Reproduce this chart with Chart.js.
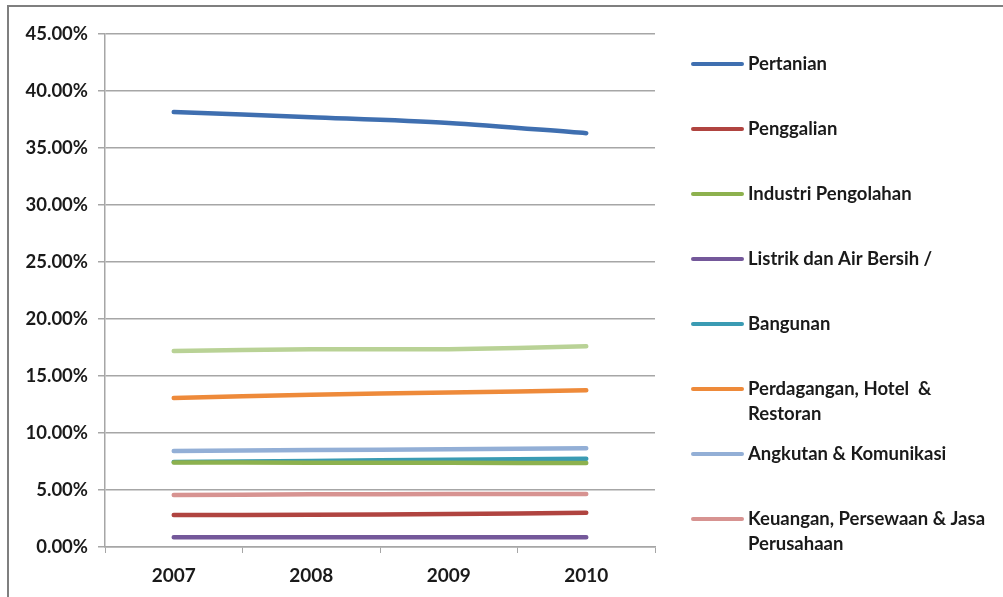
<!DOCTYPE html>
<html>
<head>
<meta charset="utf-8">
<script src="https://cdn.jsdelivr.net/npm/chart.js@4"></script>
<style>
  html, body { margin: 0; padding: 0; background: #ffffff; }
  #wrap { width: 1003px; height: 597px; }
</style>
</head>
<body>
<div id="wrap"><canvas id="c" width="1003" height="597"></canvas></div>
<script>
// Years on the horizontal axis
const years = ['2007', '2008', '2009', '2010'];

// Share of each sector (percent)
const pertanian   = [38.15, 37.70, 37.20, 36.30];
const penggalian  = [2.80, 2.82, 2.90, 3.00];
const industri    = [7.42, 7.40, 7.38, 7.36];
const listrik     = [0.86, 0.86, 0.85, 0.85];
const bangunan    = [7.46, 7.55, 7.65, 7.75];
const perdagangan = [13.07, 13.35, 13.55, 13.75];
const angkutan    = [8.42, 8.50, 8.58, 8.66];
const keuangan    = [4.56, 4.62, 4.64, 4.65];
const jasa        = [17.20, 17.35, 17.35, 17.60];

// Series names ("\n" marks a line break in the legend)
const seriesNames = [
  'Pertanian',
  'Penggalian',
  'Industri Pengolahan',
  'Listrik dan Air Bersih /',
  'Bangunan',
  'Perdagangan, Hotel  &\nRestoran',
  'Angkutan & Komunikasi',
  'Keuangan, Persewaan & Jasa\nPerusahaan',
  'Jasa-jasa'
];
const seriesValues = [pertanian, penggalian, industri, listrik, bangunan, perdagangan, angkutan, keuangan, jasa];
const seriesColors = ['#3f6fb0', '#b04440', '#8db14e', '#74589a', '#3a9bb3', '#ee8a3a', '#93afd6', '#d79391', '#b9d296'];

// Y tick range (percent)
const yMin = 0, yMax = 45, yStep = 5;

const FONT = 'Lato, "Open Sans", sans-serif';
const TEXT = '#1a1a1a';
const GRID = '#a6a6a6';

// Frame around the chart
const framePlugin = {
  id: 'frame',
  beforeDraw(chart) {
    const ctx = chart.ctx;
    ctx.save();
    ctx.fillStyle = '#ffffff';
    ctx.fillRect(0, 0, chart.width, chart.height);
    ctx.strokeStyle = '#7f7f7f';
    ctx.lineWidth = 2;
    ctx.beginPath();
    ctx.moveTo(8, chart.height);
    ctx.lineTo(8, 6);
    ctx.lineTo(chart.width, 6);
    ctx.stroke();
    ctx.restore();
  }
};

// Legend on the right; the last series is left out of it
const sideLegend = {
  id: 'sideLegend',
  afterDraw(chart) {
    const ctx = chart.ctx;
    const x0 = chart.chartArea.right + 38;
    const y0 = 64, gap = 65, lineH = 25;
    ctx.save();
    ctx.font = 'bold 18.5px ' + FONT;
    ctx.textBaseline = 'middle';
    ctx.textAlign = 'left';
    ctx.lineCap = 'round';
    for (let i = 0; i < 8; i++) {
      const ds = chart.data.datasets[i];
      const y = y0 + i * gap;
      ctx.strokeStyle = ds.borderColor;
      ctx.lineWidth = 4;
      ctx.beginPath();
      ctx.moveTo(x0, y);
      ctx.lineTo(x0 + 49, y);
      ctx.stroke();
      ctx.fillStyle = TEXT;
      ds.label.split('\n').forEach((t, k) => ctx.fillText(t, x0 + 55, y + k * lineH));
    }
    ctx.restore();
  }
};

new Chart(document.getElementById('c'), {
  type: 'line',
  data: {
    labels: years,
    datasets: seriesNames.map((n, i) => ({
      label: n,
      data: seriesValues[i],
      borderColor: seriesColors[i],
      backgroundColor: seriesColors[i],
      borderWidth: 4.5,
      borderCapStyle: 'round',
      borderJoinStyle: 'round',
      pointRadius: 0,
      tension: 0.3,
      fill: false
    }))
  },
  options: {
    responsive: false,
    animation: false,
    layout: { padding: { top: 34, right: 348, bottom: 0, left: 0 } },
    plugins: { legend: { display: false }, tooltip: { enabled: false } },
    scales: {
      x: {
        offset: true,
        grid: { display: true, drawOnChartArea: false, offset: true, tickLength: 6, color: GRID, lineWidth: 1 },
        border: { color: GRID, width: 1.5 },
        ticks: { color: TEXT, font: { family: FONT, size: 19, weight: 'bold' }, padding: 11 },
        afterFit(s) { s.height = 50; }
      },
      y: {
        min: yMin, max: yMax,
        grid: { color: GRID, lineWidth: 1.5, tickLength: 7 },
        border: { color: GRID, width: 1.5 },
        ticks: {
          stepSize: yStep,
          color: TEXT,
          font: { family: FONT, size: 18.5, weight: 'bold' },
          padding: 10,
          callback: v => Number(v).toFixed(2) + '%'
        },
        afterFit(s) { s.width = 105; }
      }
    }
  },
  plugins: [framePlugin, sideLegend]
});
</script>
</body>
</html>
